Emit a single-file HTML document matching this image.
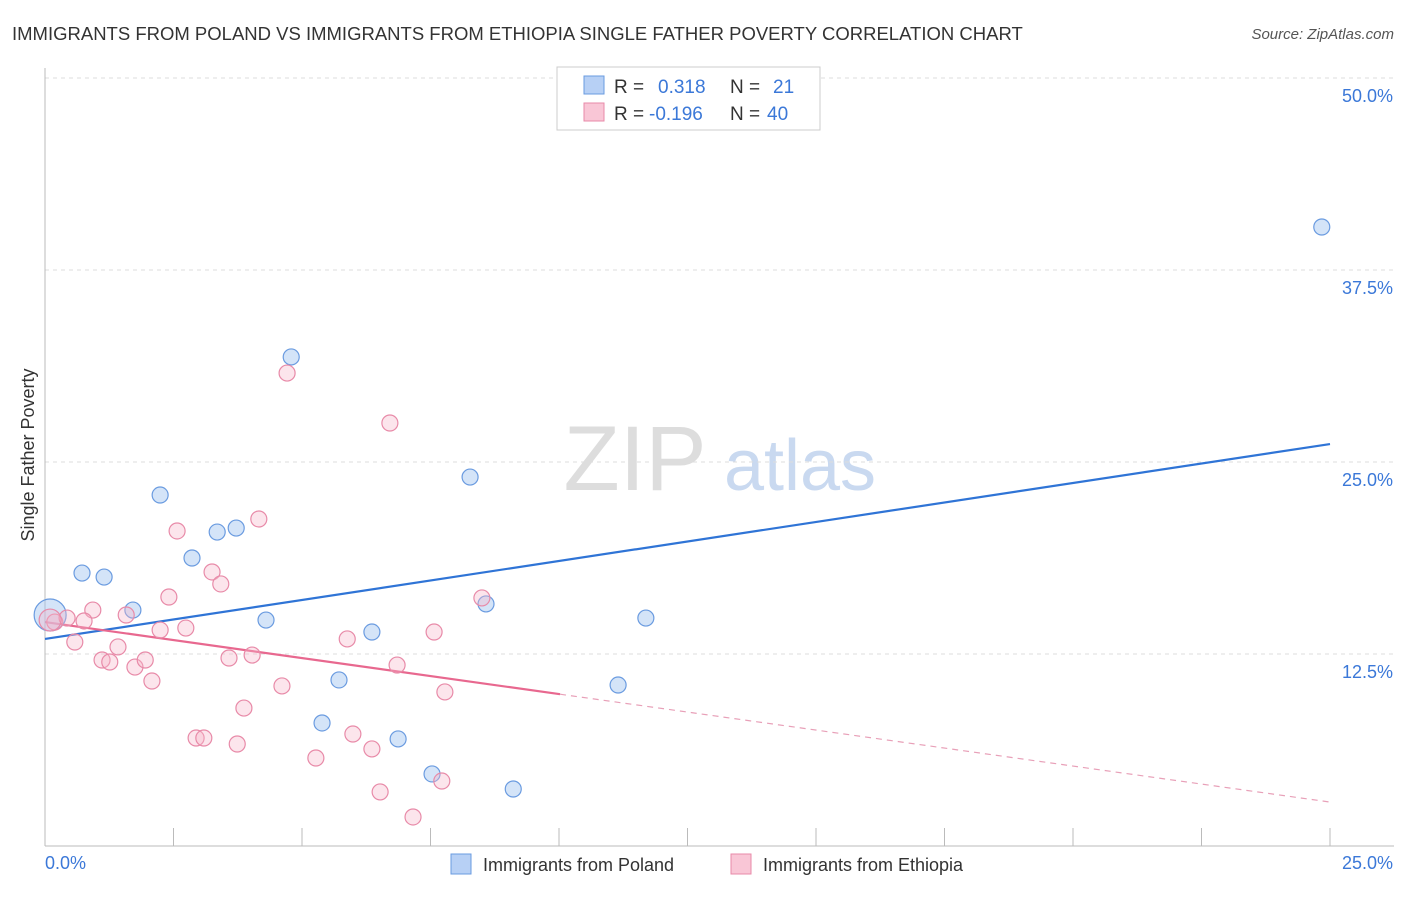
<!DOCTYPE html>
<html><head><meta charset="utf-8"><style>
body{margin:0;background:#fff;font-family:"Liberation Sans",sans-serif}
svg text{font-family:"Liberation Sans",sans-serif}
</style></head><body>
<svg id="chart" width="1406" height="892" xmlns="http://www.w3.org/2000/svg">
<text x="12" y="40" font-size="18.5" fill="#333">IMMIGRANTS FROM POLAND VS IMMIGRANTS FROM ETHIOPIA SINGLE FATHER POVERTY CORRELATION CHART</text>
<text x="1394" y="39" font-size="15" fill="#555" font-style="italic" text-anchor="end">Source: ZipAtlas.com</text>
<g><text x="635" y="490" font-size="92" fill="#ddd" font-family="Liberation Serif" text-anchor="middle">ZIP</text><text x="800" y="490" font-size="72" fill="#c9d9f0" text-anchor="middle">atlas</text></g>
<g id="grid"></g><g id="axes"></g><g id="lines"></g><g id="pts"></g>
<text transform="translate(34,455) rotate(-90)" font-size="18" fill="#333" text-anchor="middle">Single Father Poverty</text>
<text x="45" y="869" font-size="18" fill="#3b78d8">0.0%</text>
<text x="1393" y="869" font-size="18" fill="#3b78d8" text-anchor="end">25.0%</text>
<g>
<rect x="557" y="67" width="263" height="63" fill="#fff" stroke="#ccc"/>
<rect x="584" y="76" width="20" height="18" fill="#b7d0f5" stroke="#6a9be0"/>
<text x="614" y="93" font-size="19" fill="#333">R =</text><text x="658" y="93" font-size="19" fill="#3b78d8">0.318</text>
<text x="730" y="93" font-size="19" fill="#333">N =</text><text x="773" y="93" font-size="19" fill="#3b78d8">21</text>
<rect x="584" y="103" width="20" height="18" fill="#f9c6d6" stroke="#e88aa8"/>
<text x="614" y="120" font-size="19" fill="#333">R =</text><text x="649" y="120" font-size="19" fill="#3b78d8">-0.196</text>
<text x="730" y="120" font-size="19" fill="#333">N =</text><text x="767" y="120" font-size="19" fill="#3b78d8">40</text>
</g>
<g>
<rect x="451" y="854" width="20" height="20" fill="#b7d0f5" stroke="#6a9be0"/>
<text x="483" y="871" font-size="18" fill="#333">Immigrants from Poland</text>
<rect x="731" y="854" width="20" height="20" fill="#f9c6d6" stroke="#e88aa8"/>
<text x="763" y="871" font-size="18" fill="#333">Immigrants from Ethiopia</text>
</g>
</svg>
<script>
const yTicks=[12.5,25,37.5,50];
const yTickLabels=["12.5%","25.0%","37.5%","50.0%"];
const xTicks=[0,2.5,5,7.5,10,12.5,15,17.5,20,22.5,25];
const polandX=[0.1,0.72,1.15,1.71,2.24,2.86,3.35,3.72,4.3,4.79,5.72,5.39,6.36,6.87,7.53,8.27,8.58,9.11,11.15,11.69,24.84];
const polandY=[15.04,17.77,17.51,15.36,22.85,18.75,20.44,20.7,14.71,31.84,10.81,8.01,13.93,6.97,4.69,24.02,15.76,3.71,10.48,14.84,40.3];
const ethX=[0.19,0.43,0.58,0.93,0.76,1.11,1.26,1.42,1.58,1.75,1.95,2.08,2.24,2.41,2.57,2.74,2.94,3.09,3.25,3.42,3.58,3.74,3.87,4.03,4.16,4.61,4.71,5.27,5.88,5.99,6.36,6.52,6.71,6.85,7.16,7.57,7.72,7.78,8.5,0.1];
const ethY=[14.58,14.84,13.28,15.36,14.65,12.11,11.98,12.96,15.04,11.65,12.11,10.74,14.06,16.21,20.51,14.19,7.03,7.03,17.84,17.06,12.24,6.64,8.98,12.43,21.29,10.42,30.79,5.73,13.48,7.29,6.32,3.52,27.54,11.78,1.89,13.93,4.23,10.03,16.15,14.71];
const polandTrend=[13.48,26.17];
const ethTrend=[14.58,2.86];
const ethSolidEnd=10.02;
const NS="http://www.w3.org/2000/svg";
const X=v=>45+v*51.4, Y=v=>846-v*15.36;
function mk(p,t,a){const e=document.createElementNS(NS,t);for(const k in a)e.setAttribute(k,a[k]);document.getElementById(p).appendChild(e);return e;}
yTicks.forEach((t,i)=>{
 const l=mk('grid','line',{x1:45,x2:1394,y1:Y(t),y2:Y(t),stroke:'#ddd','stroke-dasharray':'4,4'});
 
 
 const tx=mk('grid','text',{x:1393,y:Y(t)+24,'font-size':18,fill:'#3b78d8','text-anchor':'end'});tx.textContent=yTickLabels[i];
 
 
});
const ax=mk('axes','line',{x1:45,x2:1394,y1:846,y2:846,stroke:'#bbb'});


const ay=mk('axes','line',{x1:45,x2:45,y1:68,y2:846,stroke:'#bbb'});


xTicks.forEach(t=>{const l=mk('axes','line',{x1:X(t),x2:X(t),y1:828,y2:846,stroke:'#bbb'});
 
 });
polandX.forEach((x,i)=>{const c=mk('pts','circle',{cx:X(x),cy:Y(polandY[i]),r:i==0?16:8,fill:'rgba(160,195,240,0.45)',stroke:'#6a9be0','stroke-width':1.2});
 
 });
ethX.forEach((x,i)=>{const c=mk('pts','circle',{cx:X(x),cy:Y(ethY[i]),r:i==39?11:8,fill:'rgba(245,180,200,0.35)',stroke:'#e88aa8','stroke-width':1.2});
 
 });
const bl=mk('lines','line',{x1:X(0),y1:Y(polandTrend[0]),x2:X(25),y2:Y(polandTrend[1]),stroke:'#2f74d6','stroke-width':2.2});


const yAt=x=>ethTrend[0]+(ethTrend[1]-ethTrend[0])*x/25;
const pl=mk('lines','line',{x1:X(0),y1:Y(ethTrend[0]),x2:X(ethSolidEnd),y2:Y(yAt(ethSolidEnd)),stroke:'#e8688f','stroke-width':2.2});


const pd=mk('lines','line',{x1:X(ethSolidEnd),y1:Y(yAt(ethSolidEnd)),x2:X(25),y2:Y(ethTrend[1]),stroke:'#e8a0b8','stroke-width':1.2,'stroke-dasharray':'6,5'});


</script>
</body></html>
